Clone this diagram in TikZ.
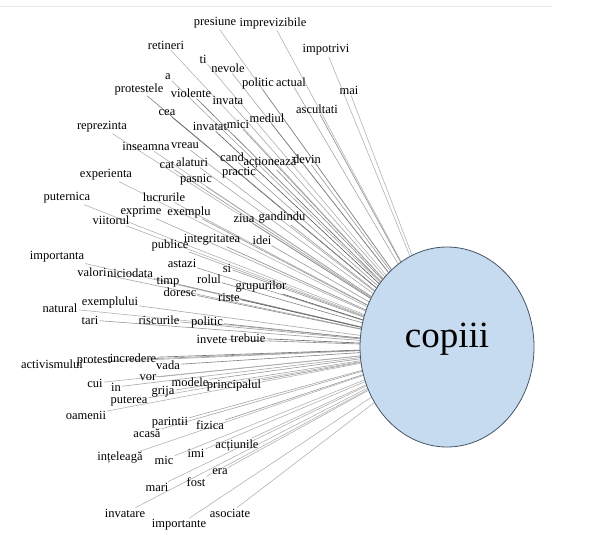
\documentclass[tikz,border=0pt]{standalone}
\usepackage{fontspec}
\setmainfont{Liberation Serif}
\usetikzlibrary{shapes.geometric,backgrounds}
\definecolor{cfill}{RGB}{198,218,240}
\definecolor{cedge}{RGB}{70,85,100}
\begin{document}
\begin{tikzpicture}[x=1pt,y=-1pt,
  word/.style={font=\fontsize{12.5}{14}\selectfont, inner sep=1pt, text=black},
  link/.style={line width=0.6pt}]
\useasboundingbox (0,0) rectangle (602,548);
\draw[black!8, line width=0.8pt] (0,6) -- (552,6);
\node[ellipse, draw=cedge, fill=cfill, line width=0.8pt, minimum width=174pt, minimum height=200pt, inner sep=0pt] (c) at (447,347) {};
\node[font=\fontsize{37}{40}\selectfont, inner sep=0pt] (ct) at (447,339) {copiii};
\foreach \n/\x/\y/\t/\s in {
1/215/23/presiune/30, 2/273/23/imprevizibile/30, 3/166/45/retineri/30,
4/203/59/ti/30, 5/228/68/nevole/35, 6/326/50/impotrivi/30, 7/168/77/a/35,
8/139/89/protestele/50, 9/191/93/violente/55, 10/228/100/invata/35,
11/258/83/politic/45, 12/291/82/actual/35, 13/349/90/mai/30,
14/317/109/ascultati/45, 15/167/113/cea/55, 16/102/127/reprezinta/30,
17/210/126/invatat/65, 18/238/124/mici/40, 19/267/118/mediul/50,
20/146/146/inseamna/30, 21/185/146/vreau/35, 22/167/165/cat/40,
23/192/162/alaturi/35, 24/232/157/cand/40, 25/270/163/acționează/45,
26/307/159/devin/40, 27/106/175/experienta/30, 28/196/180/pasnic/35,
29/239/173/practic/45, 30/67/198/puternica/30, 31/164/197/lucrurile/35,
32/141/212/exprime/35, 33/189/212/exemplu/40, 34/111/220/viitorul/30,
35/244/218/ziua/45, 36/282/218/gandindu/40, 37/170/245/publice/35,
38/212/240/integritatea/45, 39/262/240/idei/40, 40/57/257/importanta/30,
41/92/272/valori/35, 42/130/273/niciodata/35, 43/182/263/astazi/40,
44/227/268/si/40, 45/168/282/timp/40, 46/209/279/rolul/50,
47/261/287/grupurilor/65, 48/180/292/doresc/45, 49/229/297/riste/65,
50/110/302/exemplului/35, 51/60/308/natural/30, 52/90/320/tari/40,
53/159/320/riscurile/40, 54/207/322/politic/50, 55/212/339/invete/45,
56/248/338/trebuie/60, 57/52/364/activismului/35, 58/94/361/protest/40,
59/133/358/incredere/55, 60/168/365/vada/50, 61/95/383/cui/30,
62/116/387/in/35, 63/148/378/vor/35, 64/190/382/modele/40,
65/234/385/principalul/40, 66/163/392/grija/35, 67/129/401/puterea/30,
68/86/415/oamenii/30, 69/170/423/parintii/35, 70/210/425/fizica/40,
71/147/433/acasă/35, 72/237/445/acțiunile/30, 73/120/458/ințeleagă/30,
74/164/460/mic/30, 75/196/453/imi/30, 76/220/472/era/30, 77/157/487/mari/30,
78/196/482/fost/30, 79/125/513/invatare/30, 80/230/513/asociate/30,
81/179/525/importante/30}{
  \node[word] (w\n) at (\x,\y) {\t};
  \begin{pgfonlayer}{background}
    \draw[link, black!\s] (w\n) -- (c);
  \end{pgfonlayer}
}
\end{tikzpicture}
\end{document}
